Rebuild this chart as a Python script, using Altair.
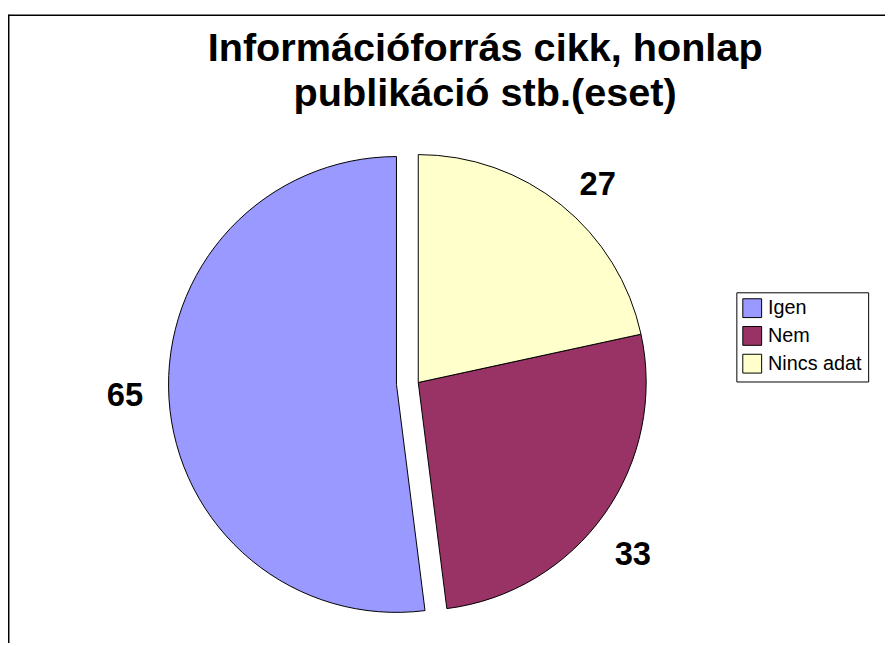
import altair as alt
import pandas as pd
import math

categories = ["Igen", "Nem", "Nincs adat"]
values = [65, 33, 27]
colors = ["#9999FF", "#993366", "#FFFFCC"]
title_lines = ["Információforrás cikk, honlap", "publikáció stb.(eset)"]

df = pd.DataFrame({"cat": categories, "value": values})

W, H = 885, 516
CX, CY = 414, 253          # centre of the pie
EXPLODE_DX, EXPLODE_DY = -22, 2
R = 230
FONT = "Liberation Sans"
ROT = math.radians(2.5)    # label angular nudge

base = alt.Chart(df).transform_calculate(
    cx=f"datum.cat == 'Igen' ? {CX + EXPLODE_DX} : {CX}",
    cy=f"datum.cat == 'Igen' ? {CY + EXPLODE_DY} : {CY}",
).encode(
    order=alt.Order("cat:N", sort="descending"),
    x=alt.X("cx:Q", scale=None, axis=None),
    y=alt.Y("cy:Q", scale=None, axis=None),
)

arcs = base.mark_arc(outerRadius=R, stroke="black", strokeWidth=1).encode(
    theta=alt.Theta("value:Q", stack=True),
    color=alt.Color(
        "cat:N",
        scale=alt.Scale(domain=categories, range=colors),
        legend=alt.Legend(
            title=None,
            orient="none",
            legendX=735,
            legendY=162,
            symbolType="square",
            symbolSize=361,
            symbolStrokeColor="black",
            symbolStrokeWidth=1,
            symbolOpacity=1,
            labelFont=FONT,
            labelFontSize=20,
            labelColor="black",
            labelOffset=6,
            rowPadding=4,
            padding=6,
            strokeColor="black",
            fillColor="white",
        ),
    )
)

labels = base.mark_text(radius=274, dy=6, font=FONT, fontSize=33, fontWeight="bold", color="black").encode(
    theta=alt.Theta("value:Q", stack=True, scale=alt.Scale(range=[ROT, 2 * math.pi + ROT])),
    text=alt.Text("value:Q"),
)

frame_data = alt.Data(values=[{}])
top_rule = alt.Chart(frame_data).mark_rule(color="black", strokeWidth=1.5).encode(
    x=alt.value(0), x2=alt.value(W), y=alt.value(-117.5)
)
left_rule = alt.Chart(frame_data).mark_rule(color="black", strokeWidth=1.5).encode(
    x=alt.value(0.75), y=alt.value(-118), y2=alt.value(H)
)

chart = (
    alt.layer(top_rule, left_rule, arcs, labels)
    .resolve_scale(theta="independent")
    .properties(
        width=W,
        height=H,
        autosize=alt.AutoSizeParams(type="none"),
        padding={"left": 0, "top": 122, "right": 0, "bottom": 0},
        title=alt.TitleParams(
            text=title_lines,
            font=FONT,
            fontSize=40,
            fontWeight="bold",
            color="black",
            anchor="middle",
            frame="group",
            dx=39,
            offset=-101,
            lineHeight=46,
        ),
    )
    .configure_view(stroke=None)
)

chart.save("out.html", embed_options={"renderer": "svg", "actions": False})
